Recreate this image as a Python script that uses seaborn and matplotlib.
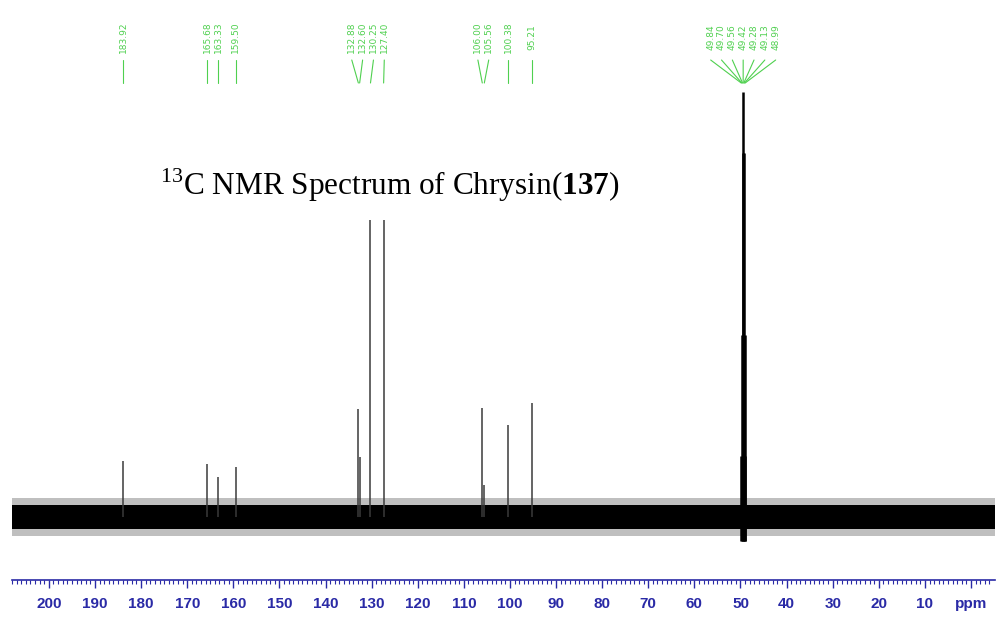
import matplotlib.pyplot as plt
import numpy as np
import seaborn as sb

# peak list (ppm) and intensities (arbitrary units, baseline = 0)
peaks_ppm = [183.92, 165.68, 163.33, 159.50, 132.88, 132.60, 130.25, 127.40,
             106.00, 105.56, 100.38, 95.21]
peaks_int = [56, 53, 40, 50, 108, 60, 297, 297, 109, 32, 92, 114]

# solvent (CD3OD) septet
solvent_ppm = [49.84, 49.70, 49.56, 49.42, 49.28, 49.13, 48.99]
solvent_int = [61, 182, 364, 425, 364, 182, 61]

# noisy baseline drawn as a band, broken under the solvent peak
baseline_segments = [(208.0, 49.75), (48.95, -5.2)]
noise_level = 12

tick_values = list(range(200, -1, -10))
tick_labels = [str(v) for v in tick_values[:-1]] + ["ppm"]

titlu = r"$^{13}$C NMR Spectrum of Chrysin($\mathbf{137}$)"

verde = "#4fd04f"
albastru = "#2a2aa6"


def spread_labels(pos, gap, n_iter=200):
    # push neighbouring labels apart until they are at least `gap` ppm away
    p = list(pos)
    for _ in range(n_iter):
        moved = False
        for i in range(len(p) - 1):
            d = p[i] - p[i + 1]
            if d < gap:
                s = (gap - d) / 2
                p[i] += s
                p[i + 1] -= s
                moved = True
        if not moved:
            break
    return p


sb.set_style("white")
plt.rcParams["mathtext.fontset"] = "custom"
plt.rcParams["mathtext.rm"] = "Liberation Serif"
plt.rcParams["mathtext.bf"] = "Liberation Serif:bold"

f = plt.figure(figsize=(10.02, 6.17), dpi=100)
ax = f.add_axes([12 / 1002, 37 / 617, 983 / 1002, 580 / 617])

# baseline noise band
for a, b in baseline_segments:
    ax.fill_between([a, b], -noise_level - 7, noise_level + 7, color="black", alpha=0.25, lw=0)
    ax.fill_between([a, b], -noise_level, noise_level, color="black", lw=0)

# peaks
ax.vlines(peaks_ppm, 0, peaks_int, color="#3a3a3a", lw=1.1)
ax.vlines(solvent_ppm, -24, solvent_int, color="black", lw=1.8)

# peak labels on top
all_ppm = peaks_ppm + solvent_ppm
lab_pos = spread_labels(sorted(all_ppm, reverse=True), 2.35)
for p, lp in zip(sorted(all_ppm, reverse=True), lab_pos):
    ax.text(lp, 480, f"{p:.2f}", rotation=90, ha="center", va="center",
            fontsize=6.5, color=verde, family="DejaVu Sans")
    ax.plot([lp, p], [457, 434], color=verde, lw=0.8)

ax.set_xlim(208.0, -5.2)
ax.set_ylim(-63, 517)

for s in ["top", "left", "right"]:
    ax.spines[s].set_visible(False)
ax.spines["bottom"].set_color(albastru)
ax.spines["bottom"].set_linewidth(1.2)
ax.set_yticks([])
ax.set_xticks(tick_values)
ax.set_xticklabels(tick_labels)
ax.set_xticks(np.arange(208, -5, -1), minor=True)
ax.tick_params(axis="x", which="both", bottom=True)
ax.tick_params(axis="x", which="major", direction="out", length=6, width=1,
               color=albastru, labelcolor=albastru, labelsize=11, pad=6)
ax.tick_params(axis="x", which="minor", direction="out", length=3, width=0.8,
               color=albastru)
for label in ax.get_xticklabels():
    label.set_family("Liberation Sans")
    label.set_fontweight("bold")

f.text(160 / 1002, 1 - 195 / 617, titlu, fontsize=22.5, va="baseline", ha="left",
       family="Liberation Serif", color="black")

f.savefig("out.png", dpi=100)
